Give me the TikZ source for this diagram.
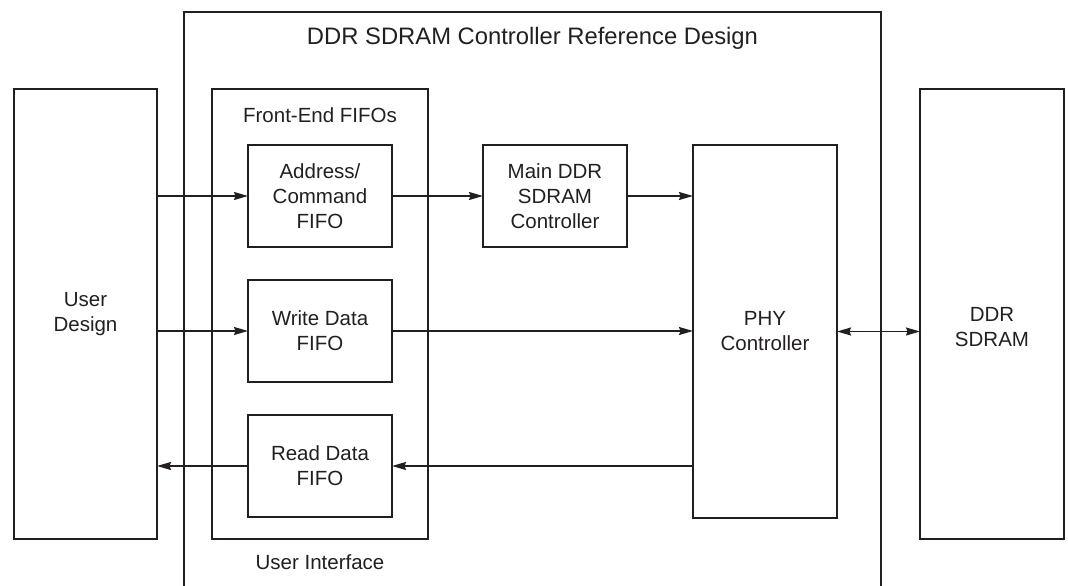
\documentclass[tikz,border=0pt]{standalone}
\usepackage{fontspec}
\setmainfont{Liberation Sans}
\usetikzlibrary{arrows.meta}
\definecolor{ink}{HTML}{231F20}
\begin{document}
\begin{tikzpicture}[x=1pt,y=-1pt,
  box/.style={draw=ink, line width=2.6pt, inner sep=0pt, outer sep=0pt, align=center,
    font=\fontsize{20.5}{25}\selectfont, text=ink},
  lbl/.style={inner sep=0pt, font=\fontsize{20.5}{25}\selectfont, text=ink, align=center},
  ttl/.style={inner sep=0pt, font=\fontsize{23.8}{28}\selectfont, text=ink},
  tip/.tip={Stealth[length=14pt,width=8pt,inset=1.5pt]},
  arr/.style={draw=ink, line width=1.4pt, -tip},
  biarr/.style={draw=ink, line width=1.4pt, tip-tip},
]
\useasboundingbox (0,0) rectangle (1068,586);
% outer reference-design frame (open at the bottom)
\draw[draw=ink, line width=2.4pt] (184,586) -- (184,12) -- (881,12) -- (881,586);
\node[ttl, anchor=base] (title) at (532.5,45) {DDR SDRAM Controller Reference Design};

% side blocks
\node[box, minimum width=143pt, minimum height=450pt] (ud) at (85.5,314) {User\\Design};
\node[box, minimum width=144pt, minimum height=450pt] (ddr) at (992,314) {};
\node[lbl] (ddrtxt) at (992,327) {DDR\\SDRAM};

% front-end FIFOs
\node[box, minimum width=216pt, minimum height=450pt] (fe) at (320,314) {};
\node[lbl, anchor=base] (fetxt) at (320,122) {Front-End FIFOs};
\node[lbl, anchor=base] (uitxt) at (320,569) {User Interface};

\node[box, minimum width=144pt, minimum height=102pt] (af) at (320,196) {Address/\\Command\\FIFO};
\node[box, minimum width=144pt, minimum height=102pt] (wf) at (320,331) {Write Data\\FIFO};
\node[box, minimum width=144pt, minimum height=102pt] (rf) at (320,466) {Read Data\\FIFO};

\node[box, minimum width=144pt, minimum height=102pt] (md) at (555,196) {Main DDR\\SDRAM\\Controller};
\node[box, minimum width=144pt, minimum height=373pt] (phy) at (765,331.5) {PHY\\Controller};

% connectors
\draw[arr] (ud.east |- af.west) -- (af.west);
\draw[arr] (ud.east |- wf.west) -- (wf.west);
\draw[arr] (rf.west) -- (ud.east |- rf.west);
\draw[arr] (af.east) -- (md.west);
\draw[arr] (md.east) -- (phy.west |- md.east);
\draw[arr] (wf.east) -- (phy.west |- wf.east);
\draw[arr] (phy.west |- rf.east) -- (rf.east);
\draw[biarr] (phy.east) -- (ddr.west |- phy.east);
\end{tikzpicture}
\end{document}
